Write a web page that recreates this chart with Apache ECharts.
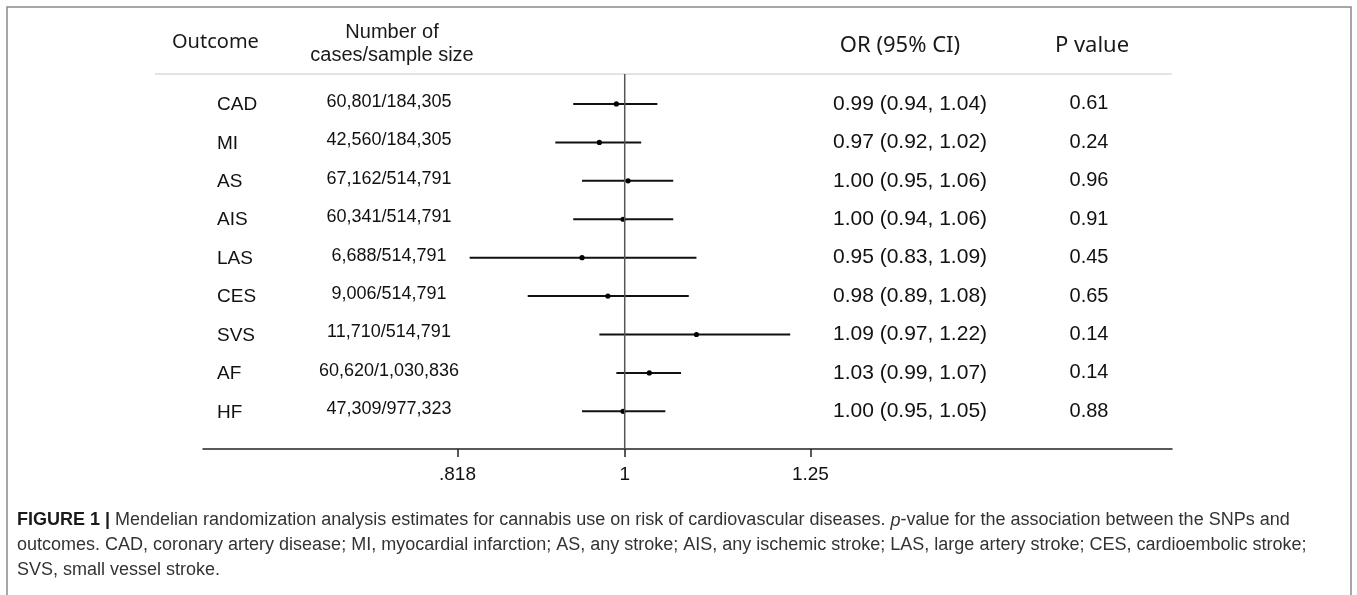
<!DOCTYPE html>
<html>
<head>
<meta charset="utf-8">
<script src="https://cdn.jsdelivr.net/npm/echarts@6/dist/echarts.min.js"></script>
<style>
  html, body { margin: 0; padding: 0; background: #fff; }
  #chart { width: 1357px; height: 595px; }
</style>
</head>
<body>
<div id="chart"></div>
<script>
// forest plot data
var outcomes = ['CAD', 'MI', 'AS', 'AIS', 'LAS', 'CES', 'SVS', 'AF', 'HF'];
var caseCounts = ['60,801/184,305', '42,560/184,305', '67,162/514,791', '60,341/514,791',
  '6,688/514,791', '9,006/514,791', '11,710/514,791', '60,620/1,030,836', '47,309/977,323'];
var orValues = [0.99, 0.97, 1.004, 0.998, 0.95, 0.98, 1.09, 1.03, 0.998];
var ciLower = [0.94, 0.92, 0.95, 0.94, 0.83, 0.89, 0.97, 0.99, 0.95];
var ciUpper = [1.04, 1.02, 1.06, 1.06, 1.09, 1.08, 1.22, 1.07, 1.05];
var pValues = ['0.61', '0.24', '0.96', '0.91', '0.45', '0.65', '0.14', '0.14', '0.88'];
var tickValues = [0.818, 1, 1.25];
var tickLabels = ['.818', '1', '1.25'];

var rowFont = '"Liberation Sans", Arial, sans-serif';
var headFont = '"Noto Sans", "Open Sans", sans-serif';

var ciData = outcomes.map(function (o, i) {
  return [ciLower[i], ciUpper[i], orValues[i], i];
});
var textData = outcomes.map(function (o, i) { return [1, i]; });

var chart = echarts.init(document.getElementById('chart'));

chart.setOption({
  animation: false,
  grid: { left: 203, right: 185, top: 74, bottom: 146 },
  xAxis: {
    type: 'log',
    min: 0.6025,
    max: 1.93,
    splitLine: { show: false },
    axisLine: { onZero: false, lineStyle: { color: '#222', width: 1.5 } },
    axisTick: {
      show: true, length: 8, customValues: tickValues,
      lineStyle: { color: '#222', width: 1.5 }
    },
    axisLabel: {
      customValues: tickValues,
      margin: 16,
      color: '#111',
      fontSize: 19,
      fontFamily: rowFont,
      formatter: function (v) {
        var best = 0;
        tickValues.forEach(function (t, k) {
          if (Math.abs(t - v) < Math.abs(tickValues[best] - v)) best = k;
        });
        return tickLabels[best];
      }
    }
  },
  yAxis: {
    type: 'value',
    min: -0.78,
    max: 8.98,
    inverse: true,
    show: false
  },
  graphic: [
    // figure frame
    { type: 'rect', shape: { x: 7, y: 7, width: 1344, height: 600 },
      style: { fill: 'none', stroke: '#8a8a8a', lineWidth: 1.5 }, silent: true },
    // header rule
    { type: 'line', shape: { x1: 155, y1: 74, x2: 1172, y2: 74 },
      style: { stroke: '#c8c8c8', lineWidth: 1 }, silent: true },
    { type: 'text', x: 172, y: 42, style: { text: 'Outcome', font: '20px ' + headFont,
      fill: '#1a1a1a', textAlign: 'left', textVerticalAlign: 'middle' } },
    { type: 'text', x: 392, y: 32, style: { text: 'Number of', font: '20px ' + rowFont,
      fill: '#1a1a1a', textAlign: 'center', textVerticalAlign: 'middle' } },
    { type: 'text', x: 392, y: 55, style: { text: 'cases/sample size', font: '20px ' + rowFont,
      fill: '#1a1a1a', textAlign: 'center', textVerticalAlign: 'middle' } },
    { type: 'text', x: 900, y: 46, style: { text: 'OR (95% CI)', font: '22px ' + headFont,
      fill: '#1a1a1a', textAlign: 'center', textVerticalAlign: 'middle' } },
    { type: 'text', x: 1092, y: 46, style: { text: 'P value', font: '22px ' + headFont,
      fill: '#1a1a1a', textAlign: 'center', textVerticalAlign: 'middle' } },
    // caption
    { type: 'text', x: 17, y: 508, style: {
      text: '{b|FIGURE 1 |} Mendelian randomization analysis estimates for cannabis use on risk of cardiovascular diseases. {i|p}-value for the association between the SNPs and\n' +
        'outcomes. CAD, coronary artery disease; MI, myocardial infarction; AS, any stroke; AIS, any ischemic stroke; LAS, large artery stroke; CES, cardioembolic stroke;\n' +
        'SVS, small vessel stroke.',
      font: '18px ' + rowFont, fill: '#333', lineHeight: 25,
      textVerticalAlign: 'top',
      rich: {
        b: { fontWeight: 'bold', fill: '#1a1a1a', fontSize: 18, fontFamily: rowFont },
        i: { fontStyle: 'italic', fontSize: 18, fontFamily: rowFont }
      }
    } }
  ],
  series: [
    {
      // reference line at OR = 1
      type: 'line',
      data: [[1, -0.78], [1, 8.98]],
      symbol: 'none',
      silent: true,
      lineStyle: { color: '#555', width: 1.5 }
    },
    {
      type: 'custom',
      data: ciData,
      encode: { x: [0, 1, 2], y: 3 },
      renderItem: function (params, api) {
        var i = api.value(3);
        var a = api.coord([api.value(0), i]);
        var b = api.coord([api.value(1), i]);
        var m = api.coord([api.value(2), i]);
        return {
          type: 'group',
          children: [
            { type: 'line', shape: { x1: a[0], y1: a[1], x2: b[0], y2: b[1] },
              style: { stroke: '#111', lineWidth: 2 } },
            { type: 'circle', shape: { cx: m[0], cy: m[1], r: 2.6 }, style: { fill: '#000' } }
          ]
        };
      }
    },
    {
      // table columns, one row per outcome
      type: 'custom',
      data: textData,
      encode: { x: 0, y: 1 },
      clip: false,
      renderItem: function (params, api) {
        var i = params.dataIndex;
        var y = api.coord([1, api.value(1)])[1];
        var orText = orValues[i].toFixed(2) + ' (' + ciLower[i].toFixed(2) + ', ' + ciUpper[i].toFixed(2) + ')';
        function txt(x, dy, s, size, align) {
          return { type: 'text', x: x, y: y + dy, style: { text: s, font: size + 'px ' + rowFont,
            fill: '#111', textAlign: align, textVerticalAlign: 'middle' } };
        }
        return {
          type: 'group',
          children: [
            txt(217, 1, outcomes[i], 19, 'left'),
            txt(389, -2, caseCounts[i], 18, 'center'),
            txt(910, 0, orText, 21, 'center'),
            txt(1089, 0, pValues[i], 20, 'center')
          ]
        };
      }
    }
  ]
});
</script>
</body>
</html>
